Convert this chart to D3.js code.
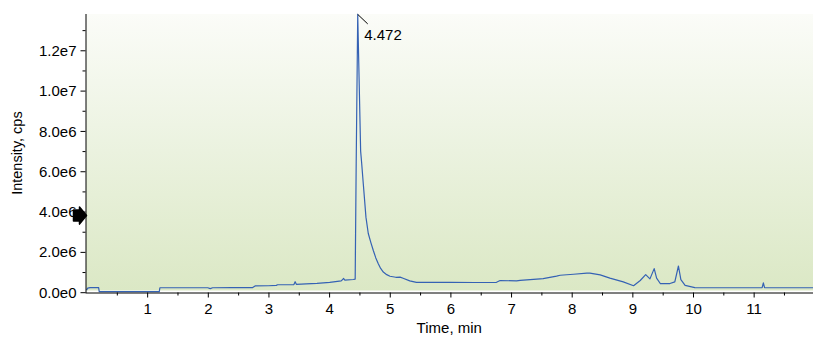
<!DOCTYPE html>
<html>
<head>
<meta charset="utf-8">
<script src="https://cdn.jsdelivr.net/npm/d3@7"></script>
<style>
  html, body { margin: 0; padding: 0; background: #ffffff; }
  svg { display: block; }
  text { font-family: "Liberation Sans", Arial, sans-serif; fill: #000; }
</style>
</head>
<body>
<svg id="chart" width="813" height="338"></svg>
<script>
// Chromatogram trace: retention time (min) and intensity (cps)
const times = [
  0.00, 0.02, 0.06, 0.20, 0.21, 0.60, 1.00, 1.20, 1.21, 1.60, 2.00, 2.04, 2.08, 2.40, 2.74,
  2.78, 3.00, 3.13, 3.15, 3.42, 3.44, 3.46, 3.62, 3.80, 4.01, 4.20, 4.24, 4.26, 4.40, 4.43,
  4.447, 4.472, 4.52, 4.537, 4.564, 4.608, 4.646, 4.69, 4.729, 4.77, 4.811, 4.85, 4.894, 4.95, 5.004,
  5.10, 5.17, 5.22, 5.33, 5.44, 5.71, 6.00, 6.40, 6.76, 6.82, 7.09, 7.15, 7.48, 7.53, 7.75,
  7.81, 8.03, 8.25, 8.30, 8.47, 8.63, 8.85, 9.02, 9.13, 9.22, 9.29, 9.36, 9.40, 9.46, 9.62,
  9.70, 9.76, 9.80, 9.87, 10.03, 10.60, 11.14, 11.16, 11.18, 12.00
];
const intensities = [
  0.10e6, 0.20e6, 0.23e6, 0.23e6, 0.03e6, 0.03e6, 0.03e6, 0.03e6, 0.22e6, 0.22e6, 0.22e6, 0.18e6, 0.22e6, 0.23e6, 0.23e6,
  0.31e6, 0.32e6, 0.34e6, 0.37e6, 0.38e6, 0.52e6, 0.39e6, 0.41e6, 0.44e6, 0.49e6, 0.56e6, 0.68e6, 0.60e6, 0.63e6, 0.65e6,
  6.5e6, 13.78e6, 7.0e6, 6.4e6, 5.37e6, 3.71e6, 2.91e6, 2.45e6, 2.07e6, 1.70e6, 1.41e6, 1.18e6, 1.00e6, 0.87e6, 0.79e6,
  0.74e6, 0.75e6, 0.69e6, 0.56e6, 0.49e6, 0.49e6, 0.49e6, 0.48e6, 0.49e6, 0.58e6, 0.56e6, 0.59e6, 0.66e6, 0.67e6, 0.80e6,
  0.84e6, 0.89e6, 0.95e6, 0.95e6, 0.86e6, 0.70e6, 0.51e6, 0.32e6, 0.58e6, 0.87e6, 0.66e6, 1.17e6, 0.70e6, 0.43e6, 0.43e6,
  0.51e6, 1.30e6, 0.62e6, 0.34e6, 0.23e6, 0.22e6, 0.23e6, 0.46e6, 0.23e6, 0.22e6
];

// Axis ticks and annotations
const xTicks = [1, 2, 3, 4, 5, 6, 7, 8, 9, 10, 11];
const xMinorTicks = [0.5, 1.5, 2.5, 3.5, 4.5, 5.5, 6.5, 7.5, 8.5, 9.5, 10.5, 11.5];
const yTicks = [0, 2e6, 4e6, 6e6, 8e6, 10e6, 12e6];
const yMinorTicks = [1e6, 3e6, 5e6, 7e6, 9e6, 11e6, 13e6];
const peakLabel = { time: 4.472, intensity: 13.78e6, text: "4.472" };
const markerLevel = 3.8e6;
const xTitle = "Time, min";
const yTitle = "Intensity, cps";

const svg = d3.select("#chart");
const plotLeft = 85.5, plotRight = 814.3, plotTop = 14, plotBottom = 292.2;

const x = d3.scaleLinear().domain([0, 12]).range([plotLeft + 1, plotRight]);
const y = d3.scaleLinear().domain([0, 13.8e6]).range([plotBottom, plotTop]);

// Plot background gradient
const defs = svg.append("defs");
const grad = defs.append("linearGradient")
  .attr("id", "bg").attr("x1", 0).attr("y1", 0).attr("x2", 0).attr("y2", 1);
grad.append("stop").attr("offset", "0%").attr("stop-color", "#fbfcf8");
grad.append("stop").attr("offset", "40%").attr("stop-color", "#eef4e4");
grad.append("stop").attr("offset", "100%").attr("stop-color", "#dbe8c5");

svg.append("rect")
  .attr("x", plotLeft + 0.5).attr("y", plotTop)
  .attr("width", 813 - plotLeft).attr("height", 290.5 - plotTop)
  .attr("fill", "url(#bg)");

// Trace
const pts = times.map((t, i) => [t, intensities[i]]);
svg.append("path")
  .datum(pts)
  .attr("fill", "none")
  .attr("stroke", "#3562b4")
  .attr("stroke-width", 1.2)
  .attr("stroke-linejoin", "round")
  .attr("d", d3.line().x(d => x(d[0])).y(d => y(d[1])));

// X axis
const xAxisY = 292.5;
const fmtY = v => d3.format(".1e")(v).replace("+", "");

const gx = svg.append("g").attr("transform", `translate(0,${xAxisY})`)
  .call(d3.axisBottom(x).tickValues(xTicks).tickSize(5).tickSizeOuter(0).tickPadding(6).tickFormat(d3.format("d")));
gx.select(".domain").attr("d", `M${plotLeft},0.5H813`);
gx.selectAll("text").style("font-size", "15px").style("font-family", "Liberation Sans, Arial, sans-serif");

svg.append("g").attr("transform", `translate(0,${xAxisY})`)
  .call(d3.axisBottom(x).tickValues(xMinorTicks).tickSize(3).tickSizeOuter(0).tickFormat(""))
  .call(g => g.select(".domain").remove());

// Y axis
const gy = svg.append("g").attr("transform", `translate(${plotLeft},0)`)
  .call(d3.axisLeft(y).tickValues(yTicks).tickSize(5).tickSizeOuter(0).tickPadding(4).tickFormat(fmtY));
gy.select(".domain").attr("d", `M0.5,${plotTop}V${xAxisY + 0.5}`);
gy.selectAll("text").style("font-size", "15px").attr("dy", "0.34em")
  .style("font-family", "Liberation Sans, Arial, sans-serif");

svg.append("g").attr("transform", `translate(${plotLeft},0)`)
  .call(d3.axisLeft(y).tickValues(yMinorTicks).tickSize(3).tickSizeOuter(0).tickFormat(""))
  .call(g => g.select(".domain").remove());

// Axis titles
svg.append("text")
  .attr("x", (plotLeft + 813) / 2).attr("y", 333)
  .attr("text-anchor", "middle").style("font-size", "15px")
  .text(xTitle);

svg.append("text")
  .attr("transform", `translate(22,${(plotTop + plotBottom) / 2}) rotate(-90)`)
  .attr("text-anchor", "middle").style("font-size", "14.5px")
  .text(yTitle);

// Peak annotation
const px = x(peakLabel.time), py = y(peakLabel.intensity);
svg.append("line")
  .attr("x1", px).attr("y1", py).attr("x2", px + 10).attr("y2", py + 9.5)
  .attr("stroke", "#000").attr("stroke-width", 1);
svg.append("text")
  .attr("x", px + 6.5).attr("y", py + 26)
  .style("font-size", "15px")
  .text(peakLabel.text);

// Threshold marker on the intensity axis
const my = y(markerLevel);
svg.append("path")
  .attr("d", `M${plotLeft - 12},${my - 5.5}H${plotLeft - 6}V${my - 8.5}L${plotLeft + 1},${my}L${plotLeft - 6},${my + 8.5}V${my + 5.5}H${plotLeft - 12}Z`)
  .attr("fill", "#000").attr("stroke", "#000").attr("stroke-width", 1.5).attr("stroke-linejoin", "round");
</script>
</body>
</html>
